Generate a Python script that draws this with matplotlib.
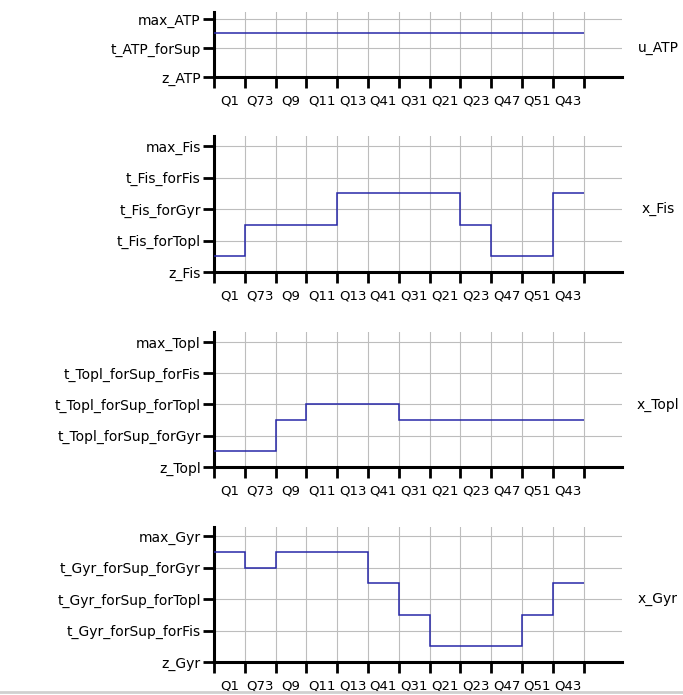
import numpy as np
import matplotlib
matplotlib.use('Agg')
import matplotlib.pyplot as plt
from matplotlib.lines import Line2D

steps = ['Q1', 'Q73', 'Q9', 'Q11', 'Q13', 'Q41', 'Q31', 'Q21', 'Q23', 'Q47', 'Q51', 'Q43']

atp_levels = ['z_ATP', 't_ATP_forSup', 'max_ATP']
atp_vals = [1.5, 1.5, 1.5, 1.5, 1.5, 1.5, 1.5, 1.5, 1.5, 1.5, 1.5, 1.5]

fis_levels = ['z_Fis', 't_Fis_forTopl', 't_Fis_forGyr', 't_Fis_forFis', 'max_Fis']
fis_vals = [0.5, 1.5, 1.5, 1.5, 2.5, 2.5, 2.5, 2.5, 1.5, 0.5, 0.5, 2.5]

topl_levels = ['z_Topl', 't_Topl_forSup_forGyr', 't_Topl_forSup_forTopl',
               't_Topl_forSup_forFis', 'max_Topl']
topl_vals = [0.5, 0.5, 1.5, 2.0, 2.0, 2.0, 1.5, 1.5, 1.5, 1.5, 1.5, 1.5]

gyr_levels = ['z_Gyr', 't_Gyr_forSup_forFis', 't_Gyr_forSup_forTopl',
              't_Gyr_forSup_forGyr', 'max_Gyr']
gyr_vals = [3.5, 3.0, 3.5, 3.5, 3.5, 2.5, 1.5, 0.5, 0.5, 0.5, 1.5, 2.5]

panels = [
    ('u_ATP', atp_levels, atp_vals, [0.3133, 0.8892, 0.5974, 0.0935], 2.24),
    ('x_Fis', fis_levels, fis_vals, [0.3133, 0.6086, 0.5974, 0.1957], 4.32),
    ('x_Topl', topl_levels, topl_vals, [0.3133, 0.3281, 0.5974, 0.1942], 4.32),
    ('x_Gyr', gyr_levels, gyr_vals, [0.3133, 0.0475, 0.5974, 0.1942], 4.29),
]

fig = plt.figure(figsize=(6.83, 6.95), dpi=100)
n = len(steps)
edges = np.arange(n + 1)

for name, levels, vals, rect, ytop in panels:
    ax = fig.add_axes(rect)
    ax.stairs(vals, edges, baseline=None, color='#2828a8', lw=1.1, zorder=3)
    ax.set_xlim(0, 13.25)
    ax.set_ylim(0, ytop)

    # ticks on the step boundaries, names centred in each step
    ax.set_xticks(edges)
    ax.set_xticklabels([])
    ax.set_xticks(edges[:-1] + 0.5, minor=True)
    ax.set_xticklabels(steps, minor=True, fontsize=9.5)
    ax.tick_params(axis='x', which='major', direction='out', length=8, width=2, color='black')
    ax.tick_params(axis='x', which='minor', length=0, pad=12.5)

    ax.set_yticks(np.arange(len(levels)))
    ax.set_yticklabels(levels, fontsize=10)
    ax.tick_params(axis='y', direction='out', length=8, width=2, pad=1.5, color='black')

    ax.grid(True, which='major', color='#bdbdbd', lw=0.8, zorder=0)
    ax.set_axisbelow(True)
    for s in ['top', 'right']:
        ax.spines[s].set_visible(False)
    for s in ['left', 'bottom']:
        ax.spines[s].set_linewidth(2.2)
        ax.spines[s].set_color('black')

    ax.text(1.088, (len(levels) - 1) / 2 / ytop, name, transform=ax.transAxes,
            fontsize=10, ha='center', va='center')

fig.add_artist(Line2D([0, 1], [0.004, 0.004], transform=fig.transFigure,
                      color='#d0d0d0', lw=2))

fig.savefig('out.png', dpi=100)
